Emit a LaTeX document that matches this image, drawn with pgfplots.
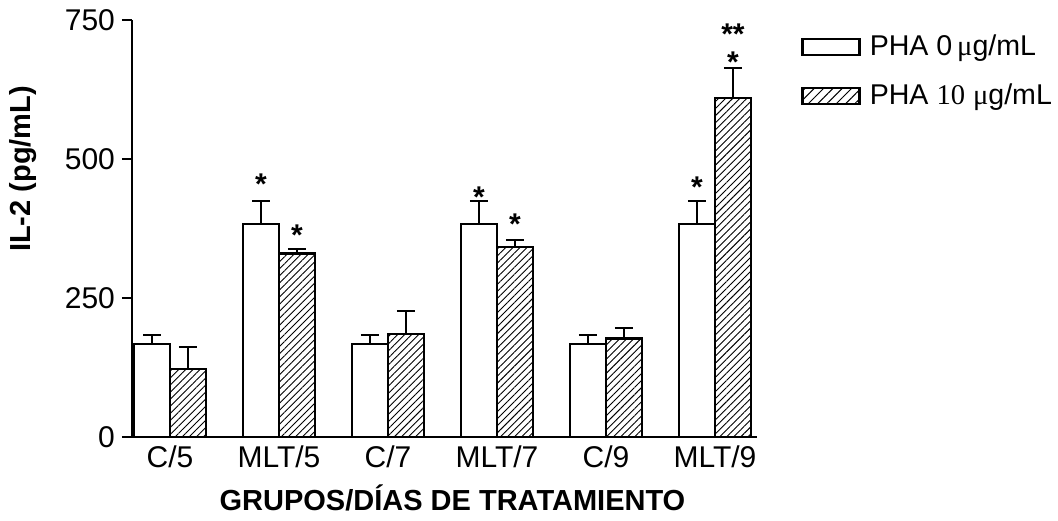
\documentclass[border=0pt]{standalone}
\usepackage{pgfplots}
\pgfplotsset{compat=1.18}
\usepackage{fontspec}
\setmainfont{Liberation Sans}
\newfontfamily\serifnum{Liberation Serif}
\usetikzlibrary{patterns.meta}

\pgfplotstableread{
x     y      e
-0.165 167   16
0.835  382.5 42
1.835  167   16
2.835  382.5 42.5
3.835  167   16
4.835  382.5 42
}\whitedata
\pgfplotstableread{
x     y      e
0.165  122   40
1.165  330   7.5
2.165  185.5 41.5
3.165  341.7 13
4.165  177   18
5.165  609.5 55
}\hatchdata

\begin{document}
\begin{tikzpicture}
\begin{axis}[
  scale only axis, width=312.35pt, height=208.2pt,
  xmin=-0.3486, xmax=5.383, ymin=0, ymax=750,
  axis x line*=bottom, axis y line*=left,
  axis line style={line width=1pt, black},
  ytick={0,250,500,750},
  xtick={0,1,2,3,4,5},
  xticklabels={C/5,MLT/5,C/7,MLT/7,C/9,MLT/9},
  x tick style={draw=none},
  y tick style={line width=1pt, black},
  tick align=outside, major tick length=5pt,
  minor tick num=0,
  /pgf/number format/assume math mode=true,
  tick label style={font=\fontsize{15}{17}\selectfont},
  xticklabel style={yshift=4pt},
  xlabel={\bfseries GRUPOS/DÍAS DE TRATAMIENTO},
  ylabel={\bfseries IL-2 (pg/mL)},
  label style={font=\fontsize{14.5}{16}\selectfont},
  xlabel style={at={(axis description cs:0.513,-0.146)}, anchor=center},
  ylabel style={at={(axis description cs:-0.1745,0.643)}, anchor=center},
  legend style={at={(axis description cs:1.071,0.975)}, anchor=north west,
    draw=none, fill=none, inner sep=0pt, row sep=8.5pt,
    font=\fontsize{14.3}{16}\selectfont,
    /tikz/every odd column/.append style={column sep=2.5pt}},
  legend cell align=left,
  clip=false,
]
\addplot[ybar, bar width=0.33, bar shift=0pt, fill=white, draw=black, line width=1.15pt,
  legend image code/.code={\draw[line width=1.15pt, draw=black, fill=white] (0pt,-4pt) rectangle (28.5pt,4pt);},
  error bars/.cd, y dir=plus, y explicit,
  error bar style={line width=0.8pt, black},
  error mark options={rotate=90, mark size=4.5pt, line width=1pt, black}]
  table[x=x, y=y, y error=e] {\whitedata};
\addlegendentry{PHA 0\,{\serifnum μ}g/mL}
\addplot[ybar, bar width=0.33, bar shift=0pt, draw=black, line width=1.15pt,
  pattern={Lines[angle=45, distance=2.5pt, line width=0.45pt]}, pattern color=black,
  legend image code/.code={\draw[line width=1.15pt, draw=black, pattern={Lines[angle=45, distance=3.3pt, line width=0.5pt]}, pattern color=black] (0pt,-4pt) rectangle (28.5pt,4pt);},
  error bars/.cd, y dir=plus, y explicit,
  error bar style={line width=0.8pt, black},
  error mark options={rotate=90, mark size=4.5pt, line width=1pt, black}]
  table[x=x, y=y, y error=e] {\hatchdata};
\addlegendentry{PHA {\serifnum 10} {\serifnum μ}g/mL}

\begin{scope}[every node/.style={font=\bfseries\fontsize{15}{17}\selectfont, anchor=base, inner sep=0pt}]
\node at (axis cs:0.835,436.6) {*};
\node at (axis cs:1.165,343.5) {*};
\node at (axis cs:2.835,412.5) {*};
\node at (axis cs:3.165,364.6) {*};
\node at (axis cs:4.835,430.5) {*};
\node at (axis cs:5.165,655.6) {*};
\node at (axis cs:5.165,706.8) {**};
\end{scope}
\end{axis}
\pgfresetboundingbox
\path[use as bounding box] (-66pt,-41.65pt) rectangle (463pt,218.35pt);
\end{tikzpicture}
\end{document}
